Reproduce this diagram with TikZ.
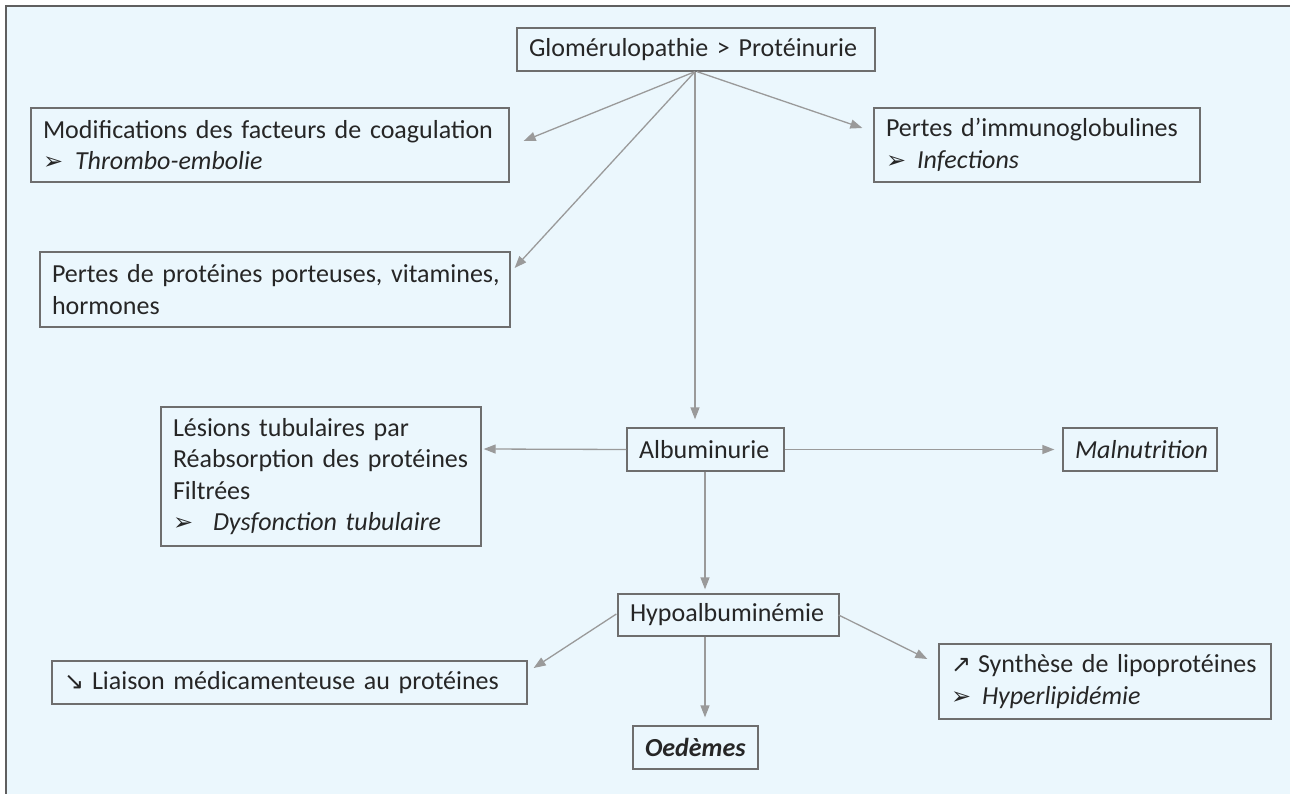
\documentclass[tikz,border=0pt]{standalone}
\usepackage{fontspec}
\setmainfont{Carlito}
\newfontfamily\symfont{DejaVu Sans}
\usetikzlibrary{arrows.meta,calc}
\definecolor{bgblue}{HTML}{EBF7FD}
\definecolor{framecol}{HTML}{5F5F5F}
\definecolor{boxline}{HTML}{6E6E6E}
\definecolor{arrowgray}{HTML}{9A9A9A}
\definecolor{txt}{HTML}{262626}
\newcommand{\bul}{{\symfont\fontsize{24}{24}\selectfont\raisebox{0pt}{➢}}}
\newcommand{\bitem}[2][31pt]{\mbox{\makebox[#1][l]{\bul}\textit{#2}}}
\newcommand{\symarrow}[1]{{\symfont\fontsize{24}{24}\selectfont #1}}
\tikzset{
  box/.style={draw=boxline, line width=1.3pt, inner xsep=12pt, inner ysep=0pt,
    align=left, text=txt, font=\fontsize{26}{31.5}\selectfont, anchor=center},
  conn/.style={draw=arrowgray, line width=1.3pt, -{Triangle[length=12pt,width=9pt]}},
}
\begin{document}
\begin{tikzpicture}[x=1pt,y=-1pt]
\useasboundingbox (0,0) rectangle (1290,794);
\fill[bgblue] (6,6) rectangle (1290,794);
\draw[framecol, line width=2pt] (6,794) -- (6,6) -- (1290,6);

\node[box, text width=334pt, minimum height=43pt] (top) at (696,49.5)
  {\mbox{Glomérulopathie > Protéinurie}};
\node[box, text width=454pt, minimum height=74pt] (mod) at (270,145)
  {\mbox{Modifications des facteurs de coagulation}\\\bitem[32pt]{Thrombo-embolie}};
\node[box, text width=302pt, minimum height=74pt] (imm) at (1037,145)
  {\mbox{Pertes d’immunoglobulines}\\\bitem{Infections}};
\node[box, text width=446pt, minimum height=75pt] (pert) at (275,289.5)
  {\mbox{Pertes de protéines porteuses, vitamines,}\\\mbox{hormones}};
\node[box, text width=296pt, minimum height=139pt] (les) at (321,476.5)
  {\mbox{Lésions tubulaires par}\\\mbox{Réabsorption des protéines}\\\mbox{Filtrées}\\\bitem[40pt]{Dysfonction tubulaire}};
\node[box, text width=133pt, minimum height=43pt] (alb) at (705.5,449.5)
  {\mbox{Albuminurie}};
\node[box, text width=130pt, minimum height=43pt] (mal) at (1140,449.5)
  {\mbox{\textit{Malnutrition}}};
\node[box, text width=197pt, minimum height=42pt] (hypo) at (728.5,615)
  {\mbox{Hypoalbuminémie}};
\node[box, text width=451pt, minimum height=43pt] (lia) at (289.5,682.5)
  {\mbox{\makebox[28pt][l]{\symarrow{↘}}Liaison médicamenteuse au protéines}};
\node[box, text width=101pt, minimum height=43pt] (oed) at (695.5,747.5)
  {\mbox{\textbf{\textit{Oedèmes}}}};
\node[box, text width=308pt, minimum height=75pt] (syn) at (1105,681.5)
  {\mbox{\makebox[27pt][l]{\symarrow{↗}}Synthèse de lipoprotéines}\\\bitem{Hyperlipidémie}};

\draw[conn] ($(top.south)+(-1,0)$) -- ($(mod.east)+(14,-4)$);
\draw[conn] ($(top.south)+(-1,0)$) -- ($(pert.east)+(4,-21.5)$);
\draw[conn] ($(top.south)+(1,0)$) -- ($(imm.west)+(-11,-17)$);
\draw[conn] ($(top.south)+(-1,0)$) -- ($(alb.north)+(-10.5,-8)$);
\draw[conn] (alb.west) -- ($(les.east)+(2,-27.5)$);
\draw[conn] (alb.east) -- ($(mal.west)+(-8,0)$);
\draw[conn] ($(alb.south)+(-0.5,0)$) -- ($(hypo.north)+(-23.5,-4)$);
\draw[conn] ($(hypo.west)+(-1,-1)$) -- ($(lia.east)+(6,-14.5)$);
\draw[conn] ($(hypo.south)+(-23.5,0)$) -- ($(oed.north)+(9.5,-8)$);
\draw[conn] ($(hypo.east)+(-1,0)$) -- ($(syn.west)+(-11,-22.5)$);
\end{tikzpicture}
\end{document}
